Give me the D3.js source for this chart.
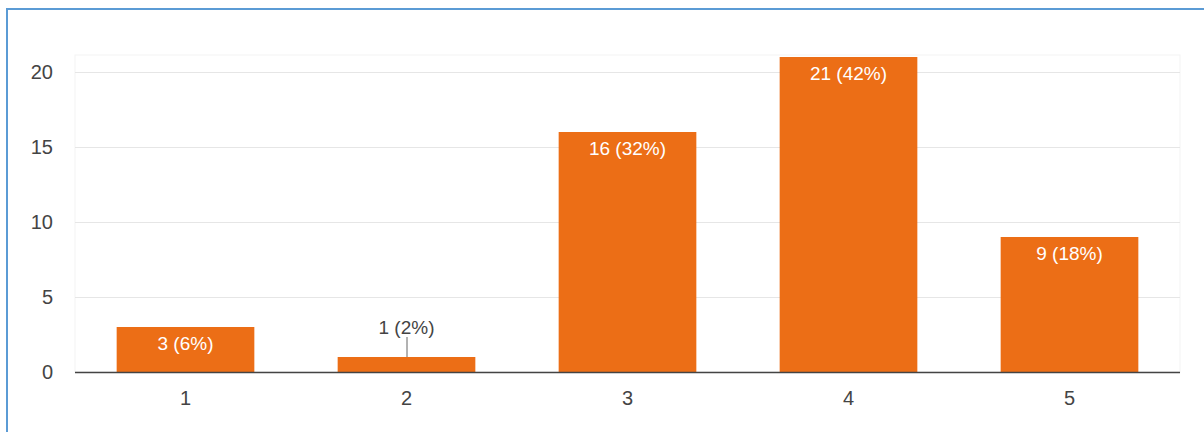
<!DOCTYPE html>
<html>
<head>
<meta charset="utf-8">
<script src="https://cdn.jsdelivr.net/npm/d3@7"></script>
<style>
  body { margin: 0; background: #ffffff; }
  svg { display: block; font-family: Arial, "Liberation Sans", sans-serif; }
</style>
</head>
<body>
<svg id="chart" width="1204" height="432"></svg>
<script>
// Chart data
const categories = ["1", "2", "3", "4", "5"];
const counts = [3, 1, 16, 21, 9];
const percents = [6, 2, 32, 42, 18];
const yTicks = [0, 5, 10, 15, 20];

const svg = d3.select("#chart");

// Outer blue frame (only top and left are visible in the picture)
svg.append("rect")
    .attr("x", 7)
    .attr("y", 9)
    .attr("width", 1300)
    .attr("height", 500)
    .attr("fill", "none")
    .attr("stroke", "#5b9bd5")
    .attr("stroke-width", 2);

// Scales
const x = d3.scaleBand()
    .domain(categories)
    .range([75, 1180])
    .paddingInner(0.377)
    .paddingOuter(0.1885);

const y = d3.scaleLinear()
    .domain([0, 20])
    .range([372, 72]);

// Faint plot frame
svg.append("rect")
    .attr("x", 75)
    .attr("y", 55)
    .attr("width", 1105)
    .attr("height", 317)
    .attr("fill", "none")
    .attr("stroke", "#f3f3f3")
    .attr("stroke-width", 1);

// Gridlines
svg.append("g")
    .selectAll("line")
    .data(yTicks.filter(d => d > 0))
    .join("line")
    .attr("x1", 75)
    .attr("x2", 1180)
    .attr("y1", d => y(d) + 0.5)
    .attr("y2", d => y(d) + 0.5)
    .attr("stroke", "#e6e6e6")
    .attr("stroke-width", 1);

// Y axis labels
const yAxis = svg.append("g")
    .attr("transform", "translate(53,0)")
    .call(d3.axisLeft(y).tickValues(yTicks).tickSize(0).tickPadding(0));
yAxis.select(".domain").remove();
yAxis.selectAll("text")
    .style("font-size", "20px")
    .attr("fill", "#444");

// Bars
svg.append("g")
    .selectAll("rect")
    .data(categories)
    .join("rect")
    .attr("x", d => x(d))
    .attr("y", (d, i) => y(counts[i]))
    .attr("width", x.bandwidth())
    .attr("height", (d, i) => y(0) - y(counts[i]))
    .attr("fill", "#ec6e16");

// Baseline
svg.append("line")
    .attr("x1", 75)
    .attr("x2", 1180)
    .attr("y1", y(0) + 0.5)
    .attr("y2", y(0) + 0.5)
    .attr("stroke", "#444")
    .attr("stroke-width", 1.5);

// X axis labels
const xAxis = svg.append("g")
    .attr("transform", `translate(0,${y(0)})`)
    .call(d3.axisBottom(x).tickSize(0).tickPadding(19));
xAxis.select(".domain").remove();
xAxis.selectAll("text")
    .style("font-size", "20px")
    .attr("fill", "#444");

// Value labels: inside the bar when tall enough, otherwise above with a leader line
categories.forEach((c, i) => {
    const cx = x(c) + x.bandwidth() / 2;
    const label = `${counts[i]} (${percents[i]}%)`;
    const barH = y(0) - y(counts[i]);
    if (barH > 30) {
        svg.append("text")
            .attr("x", cx)
            .attr("y", y(counts[i]) + 23)
            .attr("text-anchor", "middle")
            .style("font-size", "19px")
            .attr("fill", "#ffffff")
            .text(label);
    } else {
        svg.append("line")
            .attr("x1", cx + 0.5)
            .attr("x2", cx + 0.5)
            .attr("y1", y(counts[i]))
            .attr("y2", y(counts[i]) - 20)
            .attr("stroke", "#666")
            .attr("stroke-width", 1);
        svg.append("text")
            .attr("x", cx)
            .attr("y", y(counts[i]) - 23)
            .attr("text-anchor", "middle")
            .style("font-size", "19px")
            .attr("fill", "#444")
            .text(label);
    }
});
</script>
</body>
</html>
